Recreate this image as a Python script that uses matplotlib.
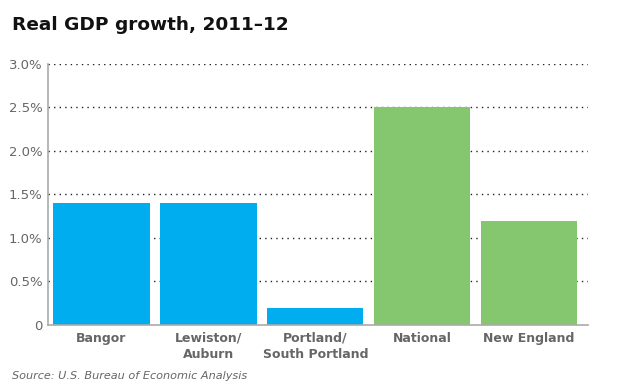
import matplotlib
matplotlib.use("Agg")
import matplotlib.pyplot as plt

categories = ["Bangor", "Lewiston/\nAuburn", "Portland/\nSouth Portland", "National", "New England"]
values = [1.4, 1.4, 0.2, 2.5, 1.2]
colors = ["#00AEEF", "#00AEEF", "#00AEEF", "#84C76E", "#84C76E"]
yticks = [0, 0.5, 1.0, 1.5, 2.0, 2.5, 3.0]
ytick_labels = ["0", "0.5%", "1.0%", "1.5%", "2.0%", "2.5%", "3.0%"]

fig = plt.figure(figsize=(6.24, 3.9), dpi=100)
ax = fig.add_axes([0.0769, 0.1667, 0.8654, 0.6692])

x = list(range(len(categories)))
ax.bar(x, values, width=0.9, color=colors, zorder=2)
ax.set_xlim(-0.5, 4.55)
ax.set_ylim(0, 3.0)
ax.set_yticks(yticks)
ax.set_yticklabels(ytick_labels, color="#666666", fontsize=9.5)
ax.set_xticks(x)
ax.set_xticklabels(categories, color="#666666", fontsize=9, fontweight="bold", linespacing=1.3)
ax.tick_params(axis="both", length=0)
ax.tick_params(axis="x", pad=5)
ax.tick_params(axis="y", pad=4)
for yv in yticks[1:]:
    ax.axhline(yv, color="#222222", linestyle=(0, (1, 3)), linewidth=1.0, zorder=1)
for s in ["top", "right"]:
    ax.spines[s].set_visible(False)
ax.spines["left"].set_color("#AAAAAA")
ax.spines["bottom"].set_color("#AAAAAA")
ax.spines["left"].set_linewidth(1.2)
ax.spines["bottom"].set_linewidth(1.2)

fig.text(12/624, 1 - 25/390, "Real GDP growth, 2011\u201312", fontsize=13.3, fontweight="bold",
         color="#111111", va="center", ha="left")
fig.text(12/624, 1 - 376/390, "Source: U.S. Bureau of Economic Analysis", fontsize=8.1,
         style="italic", color="#666666", va="center", ha="left")

fig.savefig("out.png", dpi=100)
